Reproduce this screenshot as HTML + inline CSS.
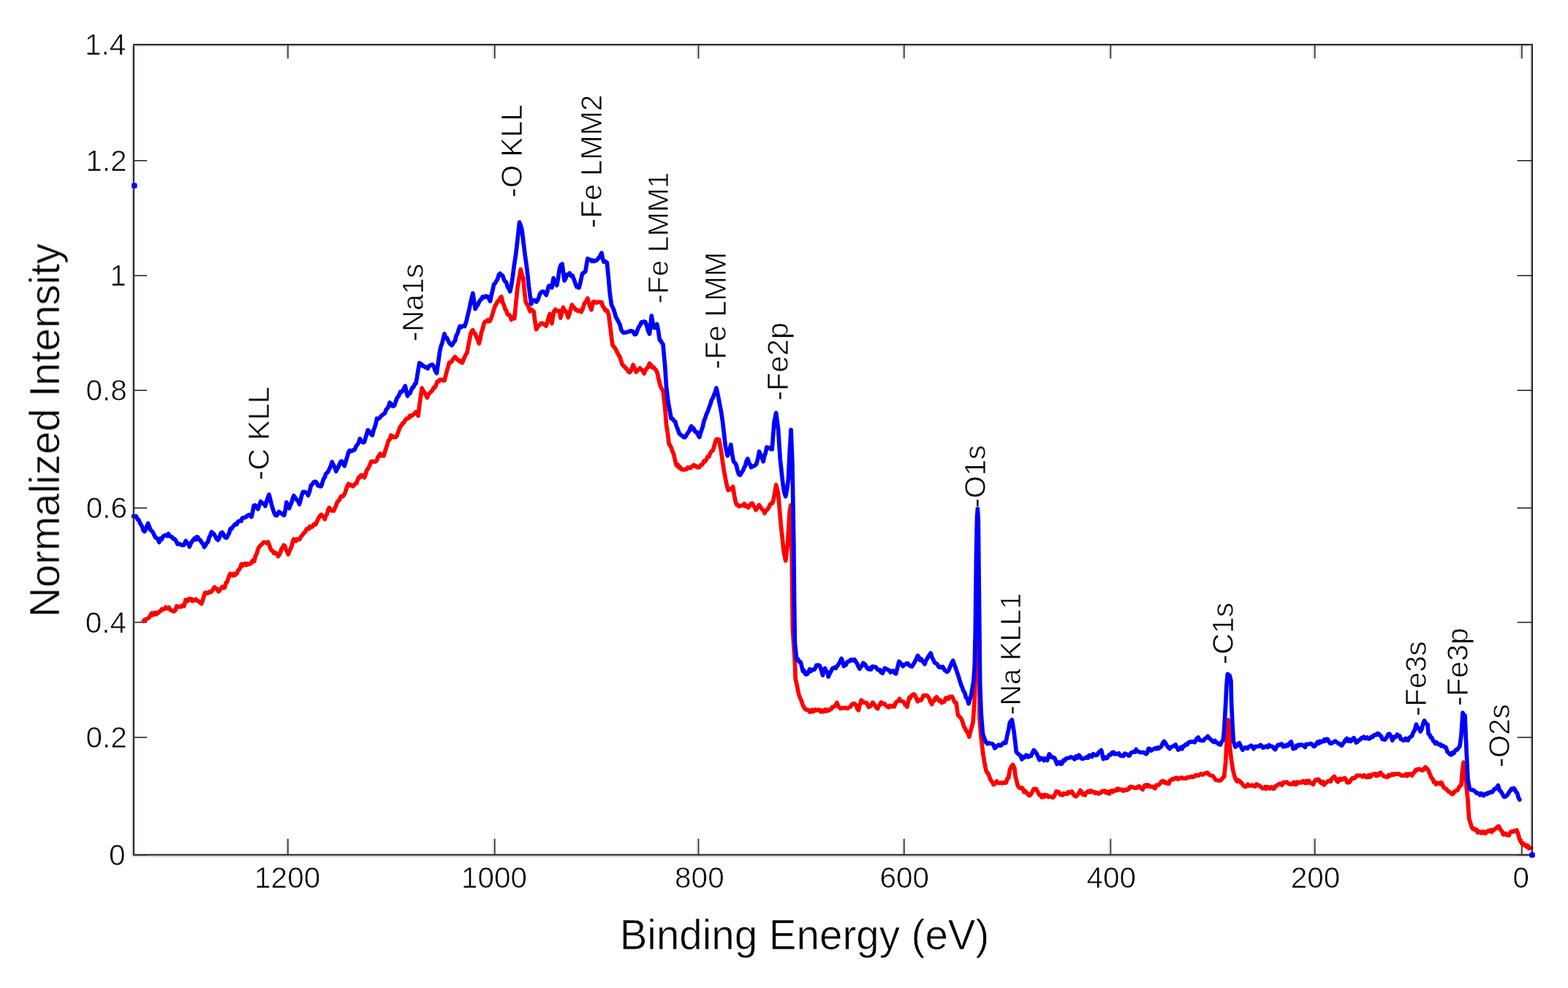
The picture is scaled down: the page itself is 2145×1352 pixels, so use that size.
<!DOCTYPE html>
<html><head><meta charset="utf-8"><title>XPS survey spectrum</title>
<style>html,body{margin:0;padding:0;background:#fff;}body{width:2145px;height:1352px;overflow:hidden;}svg{display:block;position:absolute;left:0;top:0;}text{font-family:"Liberation Sans",Arial,Helvetica,sans-serif;fill:#000000;stroke:#ffffff;stroke-width:0.7px;}</style>
</head><body>
<svg width="2145" height="1352" viewBox="0 0 2145 1352">
<rect x="0" y="0" width="2145" height="1352" fill="#ffffff"/>
<defs><filter id="soft" x="0" y="0" width="100%" height="100%" filterUnits="userSpaceOnUse"><feGaussianBlur stdDeviation="0.45"/></filter></defs>
<g filter="url(#soft)">
<g stroke="#d4d4d4" stroke-width="2" fill="none">
<line x1="181.0" y1="63.0" x2="181.0" y2="1171.7"/>
<line x1="185.0" y1="63.0" x2="2094.0" y2="63.0"/>
<line x1="181.0" y1="1171.7" x2="2096.0" y2="1171.7"/>
<line x1="2094.0" y1="63.0" x2="2094.0" y2="1167.7"/>
</g>
<g stroke="#d6d6d6" stroke-width="1.6" fill="none">
<line x1="391.9" y1="1169.7" x2="391.9" y2="1147.7"/>
<line x1="391.9" y1="63.0" x2="391.9" y2="80.0"/>
<line x1="674.8" y1="1169.7" x2="674.8" y2="1147.7"/>
<line x1="674.8" y1="63.0" x2="674.8" y2="80.0"/>
<line x1="953.6" y1="1169.7" x2="953.6" y2="1147.7"/>
<line x1="953.6" y1="63.0" x2="953.6" y2="80.0"/>
<line x1="1234.8" y1="1169.7" x2="1234.8" y2="1147.7"/>
<line x1="1234.8" y1="63.0" x2="1234.8" y2="80.0"/>
<line x1="1517.4" y1="1169.7" x2="1517.4" y2="1147.7"/>
<line x1="1517.4" y1="63.0" x2="1517.4" y2="80.0"/>
<line x1="1796.7" y1="1169.7" x2="1796.7" y2="1147.7"/>
<line x1="1796.7" y1="63.0" x2="1796.7" y2="80.0"/>
<line x1="2079.9" y1="1169.7" x2="2079.9" y2="1147.7"/>
<line x1="2079.9" y1="63.0" x2="2079.9" y2="80.0"/>
</g>
<g stroke="#262626" stroke-width="1.6" fill="none">
<line x1="393.9" y1="1169.7" x2="393.9" y2="1147.7"/>
<line x1="393.9" y1="61.0" x2="393.9" y2="80.0"/>
<line x1="676.8" y1="1169.7" x2="676.8" y2="1147.7"/>
<line x1="676.8" y1="61.0" x2="676.8" y2="80.0"/>
<line x1="955.6" y1="1169.7" x2="955.6" y2="1147.7"/>
<line x1="955.6" y1="61.0" x2="955.6" y2="80.0"/>
<line x1="1236.8" y1="1169.7" x2="1236.8" y2="1147.7"/>
<line x1="1236.8" y1="61.0" x2="1236.8" y2="80.0"/>
<line x1="1519.4" y1="1169.7" x2="1519.4" y2="1147.7"/>
<line x1="1519.4" y1="61.0" x2="1519.4" y2="80.0"/>
<line x1="1798.7" y1="1169.7" x2="1798.7" y2="1147.7"/>
<line x1="1798.7" y1="61.0" x2="1798.7" y2="80.0"/>
<line x1="2081.9" y1="1169.7" x2="2081.9" y2="1147.7"/>
<line x1="2081.9" y1="61.0" x2="2081.9" y2="80.0"/>
<line x1="183.0" y1="1169.8" x2="201.0" y2="1169.8"/>
<line x1="2096.0" y1="1169.8" x2="2075.5" y2="1169.8"/>
<line x1="183.0" y1="1009.1" x2="201.0" y2="1009.1"/>
<line x1="2096.0" y1="1009.1" x2="2075.5" y2="1009.1"/>
<line x1="183.0" y1="851.6" x2="201.0" y2="851.6"/>
<line x1="2096.0" y1="851.6" x2="2075.5" y2="851.6"/>
<line x1="183.0" y1="695.2" x2="201.0" y2="695.2"/>
<line x1="2096.0" y1="695.2" x2="2075.5" y2="695.2"/>
<line x1="183.0" y1="534.2" x2="201.0" y2="534.2"/>
<line x1="2096.0" y1="534.2" x2="2075.5" y2="534.2"/>
<line x1="183.0" y1="377.2" x2="201.0" y2="377.2"/>
<line x1="2096.0" y1="377.2" x2="2075.5" y2="377.2"/>
<line x1="183.0" y1="219.8" x2="201.0" y2="219.8"/>
<line x1="2096.0" y1="219.8" x2="2075.5" y2="219.8"/>
<line x1="183.0" y1="61.0" x2="201.0" y2="61.0"/>
<line x1="2096.0" y1="61.0" x2="2075.5" y2="61.0"/>
</g>
<polyline fill="none" stroke="#ff0000" stroke-width="5.7" stroke-linejoin="round" stroke-linecap="round" points="196.4,849.7 198.1,847.9 199.7,848.2 201.4,846.7 203.0,846.0 204.6,844.5 206.1,840.9 207.7,839.1 209.2,841.6 210.7,839.0 212.2,838.4 213.7,840.7 215.2,838.3 216.8,838.7 218.3,836.5 219.9,836.1 221.5,833.4 223.2,833.9 224.8,833.5 226.5,831.0 228.1,832.4 229.7,832.8 231.2,831.2 232.8,834.3 234.5,835.4 236.2,836.0 237.9,836.7 239.8,835.3 241.6,829.5 243.3,830.2 245.0,830.6 246.6,829.8 248.3,830.3 250.0,828.2 251.7,829.5 254.2,820.6 255.7,822.4 257.3,822.2 258.8,819.4 260.3,819.5 261.9,819.8 263.4,822.5 264.9,820.6 266.5,821.3 268.0,820.1 269.5,821.8 271.0,822.4 272.6,823.3 274.1,825.1 275.6,826.1 277.3,821.8 278.9,815.6 280.6,811.0 282.2,811.1 283.8,811.9 285.3,811.1 286.9,809.6 288.5,810.2 290.0,808.7 291.6,806.6 293.2,803.4 295.1,805.7 296.9,805.6 298.8,809.6 300.6,807.4 302.3,805.1 304.1,803.0 305.8,804.6 307.6,803.9 309.1,797.4 310.6,796.7 312.1,792.0 313.6,787.8 315.1,785.1 316.6,787.0 318.1,787.6 319.7,784.9 321.2,787.2 322.7,785.4 324.2,784.8 325.7,780.4 327.2,779.4 328.7,776.7 330.2,772.0 331.9,774.0 333.6,771.7 335.2,771.1 336.9,773.2 338.6,771.3 340.3,772.1 341.8,771.6 343.3,771.1 344.8,768.2 346.3,766.5 347.8,768.2 349.5,760.8 351.2,757.7 352.9,752.0 354.4,748.4 355.9,746.9 357.4,745.4 358.9,744.1 360.4,742.1 362.0,742.0 363.5,742.2 365.1,743.4 366.7,741.8 368.4,745.7 370.0,750.9 371.7,753.4 373.3,754.2 374.9,757.3 376.4,756.3 378.0,757.1 380.5,761.3 382.0,759.3 383.5,756.3 385.1,750.8 386.6,749.4 388.1,746.0 389.7,747.1 391.2,752.3 392.8,754.8 394.4,758.7 395.9,753.8 397.4,751.3 398.9,747.6 400.4,741.3 401.9,737.6 403.4,739.6 404.9,740.4 406.5,737.6 408.0,738.1 409.5,738.3 411.2,735.3 412.8,733.3 414.5,731.0 416.1,728.9 417.7,727.4 419.3,724.1 420.9,723.4 422.4,723.9 424.0,720.3 425.5,721.3 427.1,720.9 428.7,718.3 430.2,716.8 431.8,717.7 433.3,714.6 434.9,710.7 436.4,708.0 438.0,705.3 439.6,704.3 441.1,706.3 442.6,707.5 444.2,710.5 445.8,705.6 447.3,703.6 448.8,697.6 450.4,694.7 451.9,697.0 453.5,699.0 455.1,698.6 456.6,699.0 458.2,694.7 459.7,692.3 461.2,687.2 462.8,685.5 464.4,684.1 465.9,680.1 467.5,678.9 469.0,679.3 470.6,677.1 472.2,674.2 473.7,669.1 475.2,664.8 476.8,662.0 478.4,664.5 479.9,663.4 481.4,664.5 483.0,665.5 484.6,663.6 486.1,661.6 487.6,661.5 489.2,656.8 490.8,653.1 492.3,653.4 493.9,650.1 495.4,651.5 497.0,650.5 498.5,653.4 500.1,649.7 501.6,643.5 503.2,641.8 504.7,639.0 506.3,635.3 507.8,631.7 509.4,631.2 510.9,631.8 512.5,631.8 514.0,631.6 515.6,629.9 517.1,625.2 518.7,623.4 520.2,620.7 521.8,623.8 523.4,623.0 524.9,623.8 526.6,618.4 528.3,613.0 529.9,608.2 531.5,602.5 533.2,601.5 534.8,595.7 536.4,596.6 538.0,598.3 539.7,598.2 541.3,598.2 542.9,596.5 544.5,591.7 546.2,587.2 547.8,583.3 549.4,581.9 551.0,578.9 552.6,578.4 554.3,575.2 555.9,573.0 557.5,572.6 559.1,572.3 560.8,568.6 562.4,569.5 564.0,568.6 565.7,566.9 567.3,565.6 568.9,563.7 570.6,567.0 572.2,568.9 573.8,554.0 575.5,542.9 577.1,531.0 578.9,534.7 580.8,537.2 582.6,540.3 584.4,544.2 586.2,539.4 588.0,537.5 589.9,535.8 591.7,533.7 593.3,530.3 595.0,530.3 596.6,526.6 598.2,522.2 599.9,522.0 601.5,519.7 603.1,519.7 604.8,519.9 606.4,520.9 608.0,520.7 609.6,514.2 611.2,507.9 612.9,502.7 614.5,496.2 616.1,496.2 617.7,495.1 619.4,492.3 621.0,489.6 622.6,488.3 624.2,490.1 625.9,492.0 627.5,493.8 629.1,493.4 630.8,496.0 632.4,496.4 634.1,492.1 635.8,488.2 637.4,485.0 639.1,482.1 640.7,473.0 642.2,465.8 643.8,456.9 645.3,453.4 646.8,451.7 648.5,455.7 650.2,456.9 651.9,461.5 653.6,464.9 655.3,470.0 657.0,463.4 658.7,454.5 660.4,449.6 662.1,442.4 663.8,439.9 665.5,439.9 667.2,438.0 668.9,439.8 670.6,438.6 672.3,434.3 674.0,428.9 675.7,423.3 677.4,418.4 679.1,415.8 680.8,412.1 682.6,411.8 684.3,407.7 686.0,406.1 687.7,414.1 689.3,417.1 691.0,422.9 692.7,425.3 694.4,430.5 696.1,430.4 697.8,432.2 699.5,437.5 701.6,434.1 703.8,435.8 705.9,414.0 708.0,393.3 710.1,381.8 712.3,368.6 714.0,376.2 715.7,380.2 717.4,398.2 719.1,412.5 720.6,416.2 722.1,417.0 723.6,422.3 725.1,426.0 726.8,423.4 728.5,424.9 730.2,426.3 731.9,440.0 733.6,450.7 735.3,447.9 737.0,445.6 738.7,444.4 740.4,442.3 742.1,442.3 743.8,443.5 745.5,444.9 747.2,446.0 748.9,440.5 750.6,433.7 752.3,429.5 755.0,442.6 756.5,432.5 758.0,425.6 759.9,423.5 761.7,425.4 763.5,425.6 765.4,425.3 766.8,435.1 768.6,427.5 770.5,420.7 772.2,425.0 773.9,425.6 775.5,428.8 777.2,434.5 778.9,429.7 780.7,422.8 782.4,417.1 784.1,420.6 785.8,421.1 787.5,423.9 789.0,423.9 790.5,425.6 792.0,424.9 793.5,424.9 795.0,426.9 797.2,422.6 799.4,415.1 801.6,412.8 803.8,408.1 805.5,415.1 807.3,419.6 809.0,423.9 811.2,413.3 813.2,412.6 815.1,414.2 817.1,413.9 819.1,413.1 821.0,413.8 823.0,413.7 824.5,419.0 826.0,420.4 828.2,425.0 830.4,424.6 832.7,431.0 834.9,448.2 837.8,471.7 839.3,474.1 840.8,475.6 842.3,477.8 844.5,482.4 846.7,486.6 848.2,488.9 849.7,494.1 851.2,498.9 853.4,500.8 855.6,503.6 857.6,505.1 859.5,508.3 861.5,509.6 863.0,507.7 864.5,504.3 866.0,499.2 868.2,503.9 870.4,509.1 872.1,506.4 873.8,505.7 875.5,503.8 877.4,506.4 879.2,506.6 881.1,511.2 883.0,506.5 884.8,504.1 886.6,502.4 888.5,497.3 890.0,498.6 891.6,502.5 893.1,501.8 894.6,503.2 896.2,505.3 897.7,506.8 899.6,511.8 901.4,520.3 903.3,528.1 905.1,531.9 907.0,534.7 909.8,558.2 911.6,581.7 913.5,593.6 915.3,608.1 916.8,609.6 918.4,613.2 919.9,617.7 921.8,621.9 923.6,630.8 925.5,637.1 927.0,635.4 928.6,639.7 930.1,638.8 931.6,641.5 933.2,642.7 934.7,642.3 936.3,642.9 938.0,642.2 939.6,642.0 941.2,639.4 942.8,640.4 944.5,640.5 946.1,638.7 947.7,637.5 949.2,636.3 950.8,638.0 952.3,637.8 953.8,639.5 955.4,639.6 956.9,639.5 958.5,636.3 960.1,636.1 961.7,634.2 963.2,630.7 964.8,631.4 966.4,628.7 968.0,624.9 969.9,625.1 971.7,619.5 973.5,617.4 975.4,616.1 976.9,610.7 978.5,605.6 980.0,601.0 981.9,601.2 983.7,601.6 985.4,611.2 987.0,620.9 988.7,633.3 990.5,644.5 992.4,654.8 994.2,663.8 996.1,670.8 997.7,669.5 999.4,669.0 1001.0,669.9 1002.6,666.0 1004.5,677.8 1006.3,687.0 1007.8,690.7 1009.4,691.1 1010.9,692.9 1012.8,692.2 1014.6,691.8 1016.4,691.7 1018.3,689.3 1020.1,692.9 1022.0,692.1 1023.8,694.5 1025.7,691.4 1027.5,689.0 1029.4,688.9 1030.9,692.4 1032.5,694.2 1034.0,697.9 1035.5,695.6 1037.1,693.7 1038.6,690.9 1040.4,693.9 1042.3,696.6 1044.2,698.2 1046.0,702.3 1047.8,698.8 1049.7,697.2 1051.6,694.6 1053.4,690.5 1054.9,688.9 1056.5,688.9 1058.0,684.4 1059.8,675.1 1061.7,663.4 1064.5,674.7 1066.3,694.9 1068.2,717.7 1070.1,735.3 1071.9,753.1 1074.7,767.3 1077.5,744.1 1080.2,700.2 1081.8,691.3 1083.2,759.9 1084.3,858.1 1085.8,883.4 1087.4,905.6 1088.2,928.6 1089.8,935.9 1091.3,943.1 1092.9,951.0 1094.7,955.4 1096.4,959.1 1098.2,965.0 1099.9,967.8 1101.4,970.1 1103.0,971.3 1104.5,971.2 1106.1,972.2 1107.6,974.3 1109.1,974.0 1110.7,971.3 1112.2,973.7 1113.8,973.0 1115.4,971.0 1116.9,972.1 1118.5,971.6 1120.0,971.1 1121.6,972.7 1123.1,974.1 1124.7,972.0 1126.2,973.9 1127.8,973.3 1129.3,970.8 1130.9,972.9 1132.4,971.4 1134.0,972.1 1135.5,970.8 1137.1,970.4 1138.7,967.4 1140.2,967.5 1141.8,966.4 1143.3,964.6 1144.9,961.5 1146.5,965.8 1148.0,967.9 1149.6,969.7 1151.1,969.1 1152.7,968.8 1154.2,968.9 1155.8,968.3 1157.3,969.2 1158.9,969.5 1160.5,968.5 1162.0,967.7 1163.5,967.0 1165.1,964.1 1166.7,963.1 1168.2,962.6 1169.8,963.7 1171.3,965.3 1172.9,970.2 1174.4,971.9 1176.3,964.4 1178.3,958.1 1180.0,959.9 1181.7,961.4 1183.4,961.3 1185.1,961.8 1186.8,963.8 1188.4,967.5 1190.0,966.8 1191.9,965.1 1193.8,961.2 1195.5,963.4 1197.2,965.5 1198.9,968.5 1200.6,969.8 1202.2,966.4 1203.8,963.8 1205.4,961.1 1207.1,963.2 1208.8,962.6 1210.6,963.5 1212.3,966.0 1214.0,966.8 1215.5,967.8 1217.1,965.5 1218.6,966.8 1220.2,966.7 1221.7,965.4 1223.4,966.9 1225.2,962.2 1226.9,959.9 1228.7,959.3 1230.4,956.3 1231.9,959.2 1233.4,959.4 1234.9,959.9 1236.5,960.9 1238.0,964.5 1239.5,964.1 1241.0,967.2 1243.8,954.5 1245.3,955.2 1246.9,952.0 1248.4,950.8 1250.0,949.9 1251.5,950.9 1253.5,955.6 1255.4,959.8 1256.9,957.6 1258.5,958.4 1260.0,958.1 1261.6,955.4 1263.1,951.9 1264.7,951.7 1266.3,951.6 1267.9,951.5 1269.6,953.4 1271.2,955.9 1272.9,960.5 1274.6,963.7 1276.3,958.8 1277.9,959.2 1279.6,955.0 1281.3,953.8 1283.0,956.6 1284.7,959.1 1286.4,958.2 1288.1,961.6 1290.0,960.8 1291.9,960.0 1293.8,955.0 1295.5,955.2 1297.3,956.6 1299.0,953.4 1300.8,953.9 1302.5,953.1 1304.4,957.4 1306.2,961.3 1308.1,961.6 1310.4,978.5 1312.6,980.7 1314.8,983.3 1316.8,987.7 1318.7,994.4 1320.7,997.8 1322.4,1001.0 1324.2,1003.3 1325.9,1008.2 1327.6,1001.2 1329.4,994.6 1331.1,988.3 1333.3,954.8 1335.5,880.4 1336.8,780.8 1337.8,759.6 1338.8,800.0 1340.0,982.4 1342.2,1009.5 1345.1,1033.6 1346.9,1044.1 1348.8,1054.0 1350.3,1057.2 1351.8,1058.5 1353.3,1062.5 1355.3,1067.6 1357.2,1069.8 1359.2,1073.7 1361.4,1072.1 1363.6,1069.1 1365.4,1071.5 1367.3,1071.6 1369.2,1071.0 1371.0,1071.8 1372.9,1070.6 1374.8,1071.5 1376.4,1071.0 1378.0,1065.3 1379.6,1064.4 1381.5,1053.2 1383.5,1048.8 1385.4,1046.5 1387.8,1050.8 1389.2,1062.6 1392.1,1074.5 1394.0,1077.6 1396.0,1078.6 1397.9,1077.8 1399.4,1079.9 1400.9,1083.8 1402.4,1082.3 1404.0,1084.8 1405.5,1085.5 1407.0,1088.1 1408.5,1088.7 1410.4,1086.8 1412.3,1083.3 1414.2,1079.5 1415.8,1079.7 1417.4,1079.7 1419.0,1082.7 1421.9,1087.8 1423.4,1087.5 1424.9,1090.9 1426.4,1088.1 1428.0,1090.6 1429.5,1087.7 1431.0,1089.1 1432.5,1088.2 1434.1,1090.6 1435.7,1089.9 1437.3,1090.2 1438.9,1090.8 1440.5,1091.4 1442.1,1089.6 1445.0,1082.9 1446.7,1083.5 1448.3,1083.5 1450.0,1087.3 1451.7,1087.6 1453.3,1088.1 1454.9,1085.6 1456.5,1086.5 1458.1,1085.9 1459.8,1086.5 1461.4,1083.8 1463.0,1084.5 1464.6,1084.7 1466.2,1082.9 1468.1,1086.5 1470.0,1089.1 1471.9,1089.9 1473.8,1088.2 1475.8,1085.4 1477.7,1081.5 1479.4,1083.4 1481.1,1087.2 1482.7,1086.3 1484.4,1088.1 1485.0,1085.3 1486.8,1084.4 1488.7,1082.7 1490.5,1084.1 1492.3,1081.9 1493.8,1083.1 1495.3,1084.2 1496.8,1083.6 1498.3,1085.4 1499.8,1084.6 1501.3,1084.9 1502.9,1086.2 1504.5,1085.3 1506.2,1084.8 1507.8,1082.5 1509.4,1082.9 1511.0,1082.1 1512.6,1084.7 1514.3,1084.9 1515.9,1083.2 1517.5,1086.0 1519.0,1082.8 1520.6,1081.9 1522.1,1083.7 1523.7,1081.6 1525.2,1081.9 1526.7,1081.8 1528.3,1079.2 1529.8,1081.2 1531.3,1079.7 1532.8,1080.5 1534.4,1080.3 1535.9,1082.0 1537.4,1082.2 1539.0,1080.7 1540.5,1080.3 1542.0,1081.2 1543.6,1080.2 1545.2,1077.5 1546.9,1076.4 1548.5,1077.1 1550.1,1077.1 1551.7,1078.2 1553.3,1078.4 1555.0,1078.2 1556.6,1076.5 1558.2,1075.9 1559.8,1077.5 1561.5,1079.1 1563.1,1080.4 1565.6,1074.8 1567.2,1074.2 1568.8,1076.1 1570.4,1074.2 1572.1,1075.0 1573.7,1076.7 1575.3,1076.5 1576.9,1076.3 1578.6,1077.8 1580.1,1078.7 1581.6,1074.7 1583.2,1074.0 1584.7,1074.3 1586.2,1073.2 1587.8,1070.7 1589.3,1069.2 1590.8,1068.6 1592.4,1070.9 1594.0,1069.9 1595.7,1072.0 1597.3,1071.4 1598.9,1072.3 1600.6,1067.9 1602.3,1067.5 1604.0,1065.8 1605.7,1066.4 1607.4,1065.0 1609.4,1064.3 1611.3,1066.3 1613.3,1064.9 1615.0,1065.0 1616.8,1064.0 1618.5,1065.2 1620.3,1065.0 1622.2,1065.5 1624.0,1063.6 1625.9,1063.9 1627.8,1063.5 1629.6,1062.5 1631.4,1063.4 1633.3,1063.0 1635.2,1061.0 1637.0,1060.6 1639.2,1061.4 1641.4,1060.0 1643.1,1059.0 1644.9,1060.2 1646.6,1059.2 1648.3,1058.2 1650.1,1057.8 1651.8,1057.3 1653.5,1059.7 1655.3,1060.9 1657.0,1061.2 1659.0,1061.5 1660.9,1064.2 1662.9,1067.1 1664.9,1067.7 1666.8,1068.0 1668.8,1068.3 1670.7,1067.1 1672.7,1064.3 1674.6,1062.9 1676.6,1043.7 1678.0,1018.2 1680.0,985.2 1682.0,1016.1 1683.9,1035.9 1686.6,1053.5 1688.6,1061.4 1690.6,1066.8 1692.4,1069.5 1694.1,1067.5 1695.9,1068.9 1697.6,1071.0 1699.2,1072.0 1700.9,1074.9 1702.6,1076.2 1704.1,1076.6 1705.6,1075.4 1707.1,1073.3 1708.7,1075.3 1710.2,1075.2 1711.7,1075.0 1713.2,1074.2 1715.0,1075.6 1716.9,1076.2 1718.8,1073.1 1720.6,1075.0 1722.3,1074.6 1724.0,1075.9 1725.7,1077.9 1727.4,1078.9 1729.1,1078.4 1730.7,1076.8 1732.2,1079.4 1733.8,1076.8 1735.4,1077.5 1737.0,1079.1 1738.5,1077.2 1740.1,1077.1 1741.7,1079.5 1743.5,1078.6 1745.2,1075.5 1747.0,1074.9 1748.7,1073.6 1750.4,1072.5 1752.1,1072.4 1753.8,1074.4 1755.5,1070.6 1757.2,1070.6 1758.8,1070.6 1760.3,1070.2 1761.9,1071.9 1763.4,1072.8 1765.0,1073.2 1766.5,1072.5 1768.1,1073.3 1769.6,1070.4 1771.2,1071.5 1772.8,1073.7 1774.4,1070.2 1776.0,1070.7 1777.6,1071.2 1779.1,1070.2 1780.7,1070.9 1782.3,1068.8 1783.9,1069.2 1785.6,1071.7 1787.3,1068.6 1788.9,1071.2 1790.6,1068.5 1792.3,1071.3 1794.4,1071.9 1796.5,1073.5 1798.1,1069.6 1799.8,1067.2 1801.4,1067.6 1803.1,1066.5 1804.7,1067.4 1806.3,1070.7 1808.0,1071.8 1809.7,1069.7 1811.3,1074.0 1813.2,1071.7 1815.0,1070.5 1816.9,1068.8 1818.6,1068.5 1820.3,1069.4 1821.9,1065.6 1823.6,1063.8 1825.3,1062.6 1827.0,1065.4 1828.8,1069.0 1830.3,1070.0 1831.9,1066.0 1833.4,1065.5 1835.0,1067.2 1836.5,1066.5 1838.1,1065.4 1839.7,1064.6 1841.3,1066.8 1843.0,1070.8 1844.6,1070.9 1846.2,1070.3 1847.9,1067.5 1849.5,1065.1 1851.1,1064.8 1852.7,1064.9 1854.4,1063.6 1856.0,1061.4 1857.6,1061.2 1859.3,1061.5 1860.9,1061.3 1862.5,1061.7 1864.2,1062.9 1865.8,1060.7 1867.4,1062.2 1869.1,1063.6 1870.7,1063.4 1872.2,1060.7 1873.7,1063.3 1875.2,1062.6 1876.7,1059.9 1878.2,1060.0 1879.7,1059.5 1881.2,1058.7 1882.7,1061.8 1884.2,1059.5 1885.7,1060.9 1887.2,1057.9 1888.7,1057.3 1890.2,1060.1 1891.8,1060.9 1893.5,1062.6 1895.1,1062.5 1896.7,1063.0 1898.2,1063.4 1899.7,1060.5 1901.2,1061.6 1902.8,1060.8 1904.3,1059.3 1905.8,1060.4 1907.3,1059.0 1908.9,1059.6 1910.5,1059.1 1912.2,1058.9 1913.8,1059.1 1915.4,1060.0 1917.0,1061.4 1918.7,1061.3 1920.3,1061.1 1921.9,1061.1 1923.6,1059.2 1925.2,1061.8 1926.8,1059.3 1928.4,1058.9 1930.1,1060.3 1931.7,1061.2 1933.3,1057.8 1935.0,1056.9 1936.6,1053.5 1938.2,1054.0 1940.0,1052.3 1941.8,1052.6 1943.7,1053.0 1945.5,1054.4 1947.0,1053.8 1948.5,1051.1 1950.0,1049.7 1951.5,1052.3 1953.0,1052.3 1954.5,1055.6 1956.0,1059.2 1958.0,1063.9 1960.0,1066.3 1961.5,1070.4 1963.0,1070.0 1964.5,1073.4 1966.0,1072.4 1967.5,1071.4 1969.0,1072.1 1970.5,1072.8 1972.0,1070.7 1974.0,1075.7 1976.0,1078.7 1977.5,1078.9 1979.0,1080.2 1980.5,1082.4 1982.0,1083.5 1983.5,1083.9 1985.0,1085.4 1986.5,1086.8 1988.0,1086.2 1989.5,1083.4 1991.0,1082.4 1992.5,1081.7 1994.0,1081.3 1995.7,1077.6 1997.3,1075.4 1999.0,1074.3 2000.5,1054.1 2002.0,1043.2 2004.0,1050.0 2006.0,1076.4 2008.0,1095.0 2009.6,1119.8 2011.6,1126.4 2013.6,1132.8 2015.2,1134.4 2016.8,1133.9 2018.4,1136.1 2020.0,1135.4 2021.6,1139.4 2023.2,1137.8 2024.8,1138.4 2026.4,1140.1 2027.9,1138.1 2029.5,1138.0 2031.1,1140.5 2032.7,1140.0 2034.3,1137.6 2035.9,1137.0 2037.5,1137.7 2039.0,1136.0 2040.6,1138.5 2042.2,1135.7 2043.8,1135.6 2045.4,1134.4 2047.0,1133.3 2048.6,1131.4 2050.2,1130.6 2051.8,1133.8 2053.3,1136.2 2054.9,1138.1 2056.5,1142.1 2058.1,1141.9 2059.7,1140.5 2061.3,1142.6 2062.9,1142.9 2064.4,1143.0 2066.0,1138.8 2067.6,1137.8 2069.4,1138.3 2071.2,1136.9 2073.0,1137.4 2074.8,1136.0 2076.8,1141.3 2078.8,1148.8 2080.4,1151.4 2081.9,1154.5 2083.5,1154.0 2085.1,1156.7 2086.7,1156.2 2088.3,1158.7 2089.9,1157.0 2091.5,1160.8 2093.1,1159.9 2094.7,1160.3"/>
<polyline fill="none" stroke="#0000ff" stroke-width="5.7" stroke-linejoin="round" stroke-linecap="round" points="182.5,706.4 184.4,706.4 186.3,706.3 188.0,710.7 189.6,711.1 191.3,715.3 192.9,718.2 194.4,720.5 196.0,725.6 197.6,727.3 199.3,725.0 200.9,719.9 202.6,716.2 204.3,720.8 206.0,725.5 207.7,726.3 209.4,728.8 211.0,732.4 212.7,735.6 214.4,736.4 216.0,737.8 217.7,742.0 219.4,737.0 221.1,738.3 222.8,734.5 224.3,733.3 225.8,732.4 227.3,732.3 228.8,733.4 230.3,730.4 232.0,733.1 233.6,734.5 235.3,734.8 236.8,737.2 238.3,737.2 239.9,739.0 241.4,741.3 242.9,744.7 244.7,744.3 246.4,744.4 248.2,745.9 249.9,745.9 251.7,745.9 254.2,740.1 255.9,742.7 257.5,744.0 259.2,748.2 261.1,743.5 263.0,740.4 264.5,739.1 266.0,736.8 267.6,738.5 269.1,734.7 270.6,735.0 272.4,738.7 274.1,739.1 275.9,742.8 277.6,743.7 279.4,748.5 281.1,746.3 282.7,743.1 284.4,741.7 286.1,735.4 287.7,732.6 289.4,728.0 291.1,729.7 292.8,730.9 294.5,734.0 296.4,737.5 298.2,738.9 300.1,735.9 301.9,730.0 303.8,728.6 305.4,730.6 307.0,734.1 308.5,735.7 310.1,735.9 311.8,732.5 313.4,729.8 315.1,723.7 316.9,723.5 318.6,720.7 320.4,718.7 322.1,716.8 323.9,717.6 325.4,714.0 326.9,713.2 328.5,712.4 330.0,712.9 331.5,708.8 333.0,708.9 334.5,708.0 336.0,707.9 337.5,706.4 339.0,705.3 340.7,704.5 342.4,706.2 344.1,707.3 345.6,700.4 347.2,691.8 349.1,691.4 351.0,694.0 352.9,696.7 354.8,691.1 356.6,686.3 358.2,688.3 359.8,688.7 361.3,689.3 362.9,692.4 364.6,686.4 366.3,681.2 368.0,676.7 369.9,683.9 371.7,691.5 373.4,696.9 375.1,702.1 376.8,704.9 378.5,705.4 380.1,702.5 381.8,700.3 383.5,701.9 385.2,702.4 387.0,704.3 388.7,705.1 390.3,698.2 391.9,687.3 393.8,691.1 395.6,695.5 397.2,691.2 398.8,687.7 400.3,682.6 401.9,678.3 403.4,680.6 404.9,682.2 406.5,684.9 408.0,685.4 409.5,690.2 411.2,684.3 412.8,677.7 414.5,673.1 416.2,673.0 418.0,674.0 419.8,674.2 421.6,677.9 423.6,672.2 425.5,664.1 427.1,663.0 428.6,660.4 430.1,659.3 431.7,659.0 433.3,660.7 434.9,664.6 436.4,664.2 438.0,665.6 439.5,665.3 441.1,660.2 442.6,655.2 444.2,653.5 445.7,648.5 447.2,647.2 448.8,645.7 450.6,641.7 452.5,637.5 454.3,632.3 456.1,636.3 457.9,639.2 459.7,645.0 461.3,641.3 462.8,639.4 464.4,635.0 465.9,631.9 467.5,631.2 469.4,634.9 471.3,637.6 473.1,631.2 475.0,625.0 476.8,618.5 478.3,616.6 479.9,617.7 481.4,617.1 483.0,615.9 484.5,615.9 486.1,613.4 487.6,609.9 489.2,608.1 490.7,605.6 492.3,600.4 493.9,603.3 495.4,604.7 496.9,605.7 498.5,604.7 500.1,599.0 501.6,593.9 503.2,588.6 504.8,589.8 506.3,592.4 507.8,594.6 509.4,595.5 510.9,589.2 512.5,584.8 514.0,580.3 515.6,572.7 517.1,573.2 518.7,572.6 520.2,570.6 521.8,568.9 523.4,567.7 525.0,566.4 526.6,565.4 528.2,560.5 529.9,558.9 531.5,556.3 533.1,550.9 534.7,552.2 536.4,555.4 538.0,555.8 539.6,555.0 541.2,550.0 542.9,545.2 544.5,543.1 546.1,540.5 547.8,536.0 549.4,536.3 551.0,534.7 552.7,531.3 554.3,528.1 555.9,536.1 557.5,541.9 559.1,538.2 560.8,538.4 562.5,534.0 564.1,530.3 565.7,529.6 567.3,525.6 568.9,525.0 570.5,516.2 572.2,505.3 573.8,496.7 575.4,497.9 577.1,498.8 578.7,501.2 580.3,501.1 582.0,502.7 583.6,502.8 585.2,504.3 586.8,501.0 588.5,500.0 590.1,499.2 591.7,499.1 593.6,501.7 595.5,507.8 597.4,510.7 599.5,496.2 601.5,481.5 603.1,474.0 604.8,469.8 606.4,463.2 608.0,456.8 609.6,462.1 611.3,462.3 612.9,465.8 614.5,469.1 616.2,471.0 617.8,472.6 619.4,470.6 621.0,468.0 622.6,466.1 624.2,459.2 625.9,456.4 627.5,450.8 629.1,446.4 630.8,447.8 632.4,446.4 634.1,446.2 635.7,446.5 637.9,439.9 640.0,431.0 641.7,424.0 643.4,415.9 645.1,408.3 646.8,401.3 648.5,411.5 650.2,422.8 651.9,419.2 653.6,417.5 655.3,413.2 657.0,410.5 658.5,409.7 660.1,406.2 661.6,406.3 663.2,406.6 664.7,405.2 666.7,405.5 668.6,408.3 670.6,412.3 672.3,403.6 674.0,396.8 675.7,388.9 677.4,387.6 679.1,384.6 680.8,381.6 682.5,375.6 684.2,374.2 685.9,376.5 687.6,377.2 689.3,382.4 691.0,385.3 692.7,386.4 694.4,392.9 696.1,394.7 697.8,398.9 699.5,390.5 701.2,379.7 703.4,362.8 705.5,349.3 707.2,334.8 708.9,319.5 710.6,304.2 712.3,308.9 714.0,314.6 716.6,335.9 718.3,349.7 720.0,361.3 721.7,375.1 723.4,391.5 725.1,404.4 726.8,415.9 728.5,410.9 730.2,410.8 731.9,411.3 733.6,413.1 735.3,411.1 737.0,407.1 738.7,401.8 740.4,399.9 742.1,398.9 743.8,399.3 745.5,401.2 747.2,403.8 748.9,398.3 750.6,391.2 752.8,390.8 755.0,393.6 757.2,380.6 758.7,385.0 760.2,386.7 761.7,390.5 763.5,381.0 765.4,368.2 767.2,362.5 769.1,361.2 772.0,383.8 773.7,381.4 775.5,375.9 777.2,375.7 779.2,373.8 781.1,377.6 783.1,377.1 785.3,382.7 787.5,389.4 789.0,392.7 790.5,392.3 792.0,393.8 794.2,385.6 796.4,375.0 797.9,373.5 799.4,372.7 800.9,371.3 803.8,354.0 805.8,354.9 807.7,355.4 809.7,357.5 811.2,356.3 812.7,357.6 814.2,356.9 816.4,356.0 818.6,353.4 820.8,350.6 823.0,346.1 824.5,353.8 826.0,358.3 828.2,357.7 830.4,359.5 832.7,383.4 834.1,399.6 836.4,416.9 839.3,423.0 840.8,427.6 842.3,433.3 843.8,436.1 846.0,440.2 848.2,444.6 849.7,450.8 851.2,453.7 853.1,455.5 854.9,455.0 856.8,454.8 858.6,454.0 860.6,453.8 862.5,452.7 864.5,453.0 866.3,454.0 868.2,457.7 870.0,457.2 871.9,452.3 873.7,447.4 875.5,445.5 877.4,440.9 879.2,440.8 881.1,440.0 882.9,440.5 884.8,446.2 886.6,452.4 888.5,456.9 891.3,432.0 894.0,447.9 895.6,448.6 897.1,446.8 898.7,443.5 900.5,452.5 902.4,465.3 903.9,466.0 905.5,469.3 907.0,471.1 909.8,502.1 911.6,530.1 914.4,552.4 916.2,561.5 918.1,572.7 919.9,572.8 921.8,575.6 923.6,576.8 925.5,583.5 927.3,587.7 929.2,593.2 931.1,595.1 932.9,595.8 934.8,598.0 936.6,598.7 938.1,597.0 939.7,594.2 941.2,592.0 942.7,590.1 944.3,585.9 945.8,583.2 947.4,587.4 949.0,586.3 950.6,590.2 952.1,591.7 953.7,591.4 955.3,596.1 956.9,598.2 958.5,592.3 960.0,587.8 961.5,583.1 963.1,575.8 964.7,572.2 966.2,567.2 968.1,563.3 969.9,558.1 971.8,553.1 973.6,547.1 975.2,544.5 976.8,540.1 978.4,536.4 980.0,531.0 981.5,537.7 983.1,545.5 984.6,553.7 986.7,564.2 988.7,578.2 990.5,593.9 992.4,610.8 995.2,623.7 996.7,619.6 998.3,614.6 999.8,608.5 1001.6,621.5 1003.5,631.5 1005.4,633.4 1007.2,636.3 1009.0,644.2 1010.9,649.4 1012.7,650.0 1014.6,646.4 1016.4,643.9 1018.0,639.9 1019.6,637.0 1021.3,630.5 1022.9,627.8 1024.4,632.9 1026.0,635.5 1027.5,639.5 1029.3,638.4 1031.2,637.8 1033.1,636.7 1034.9,634.7 1036.8,627.4 1038.6,618.0 1040.5,621.9 1042.3,626.0 1044.2,631.5 1045.7,624.4 1047.3,619.8 1048.8,612.2 1050.7,612.4 1052.5,613.2 1054.3,614.6 1056.2,614.7 1059.0,577.6 1061.7,565.1 1064.5,586.3 1067.3,628.7 1069.2,646.2 1071.0,662.5 1072.8,673.6 1074.7,679.4 1076.6,669.3 1078.4,656.2 1080.2,619.6 1082.1,588.0 1083.9,633.7 1084.9,689.6 1085.8,743.2 1086.6,825.8 1087.4,880.0 1089.8,902.8 1091.6,902.2 1093.4,905.6 1095.2,906.1 1096.8,912.1 1098.3,918.3 1099.9,917.4 1101.4,922.0 1103.0,922.9 1104.5,922.2 1106.1,919.5 1107.6,915.7 1109.1,918.5 1110.7,917.4 1112.2,916.1 1113.8,916.4 1115.3,914.3 1116.9,910.3 1118.5,910.3 1120.0,910.2 1121.6,911.4 1123.5,916.8 1125.5,924.1 1127.0,916.5 1128.6,914.5 1130.1,918.5 1131.7,919.5 1133.2,926.0 1135.2,921.4 1137.1,918.1 1138.7,914.9 1140.2,914.2 1141.8,913.2 1143.4,914.4 1144.9,911.9 1146.5,910.0 1148.0,907.6 1149.6,904.5 1151.1,901.1 1152.7,905.2 1154.2,911.7 1155.8,908.6 1157.3,909.7 1158.9,906.1 1160.4,905.0 1162.1,904.9 1163.8,902.8 1165.6,902.6 1167.3,903.8 1169.0,902.6 1170.8,905.4 1172.5,907.9 1174.2,912.0 1176.0,915.2 1177.5,912.2 1179.1,911.3 1180.7,907.3 1182.2,908.2 1183.8,909.5 1185.3,913.0 1186.9,914.9 1188.4,915.9 1190.0,914.0 1191.6,916.0 1193.2,912.1 1194.8,912.2 1196.5,912.5 1198.2,913.0 1199.8,915.3 1201.5,916.9 1203.4,916.6 1205.4,920.2 1207.3,921.2 1210.2,914.4 1211.8,915.1 1213.4,915.6 1215.0,916.9 1216.7,917.3 1218.3,920.0 1220.0,918.8 1221.7,918.0 1223.7,921.0 1225.6,921.8 1227.8,913.1 1229.9,905.2 1231.7,907.3 1233.4,908.9 1235.2,911.7 1236.9,909.6 1238.6,909.0 1240.2,907.8 1241.9,907.8 1243.8,910.5 1245.8,911.6 1247.7,912.0 1249.2,909.3 1250.8,907.0 1252.3,903.8 1253.9,900.9 1255.4,897.2 1257.0,899.4 1258.6,903.4 1260.2,901.8 1261.8,904.6 1263.4,906.5 1265.0,908.8 1266.6,903.8 1268.3,901.3 1269.9,898.5 1271.6,896.3 1273.2,893.8 1275.0,899.5 1276.8,903.0 1278.6,906.9 1280.4,907.7 1281.9,908.5 1283.5,911.7 1285.0,913.2 1286.6,912.4 1288.1,913.6 1289.6,912.5 1291.2,914.8 1292.7,917.7 1294.3,918.3 1295.8,919.4 1297.9,917.0 1300.0,911.6 1301.8,907.4 1303.7,903.9 1305.4,909.1 1307.2,913.7 1308.9,918.6 1311.1,925.2 1313.3,932.3 1314.8,937.2 1316.3,940.5 1317.8,945.3 1319.6,947.5 1321.4,954.3 1323.3,956.4 1325.1,962.9 1326.9,956.7 1328.8,950.3 1330.3,940.8 1331.8,932.4 1333.3,910.1 1334.3,860.7 1335.5,758.6 1336.5,708.5 1337.4,696.1 1338.3,712.3 1339.2,799.6 1340.7,938.2 1342.2,976.6 1344.4,1003.9 1346.6,1010.2 1348.8,1016.0 1350.8,1017.8 1352.7,1016.6 1354.7,1017.5 1356.2,1017.5 1357.7,1018.1 1359.2,1019.6 1360.7,1023.7 1362.5,1022.4 1364.3,1020.6 1366.2,1019.2 1368.0,1020.5 1369.6,1020.1 1371.1,1018.1 1372.7,1016.4 1374.2,1016.9 1375.8,1016.7 1377.7,1007.0 1379.6,999.1 1381.5,988.6 1384.4,985.1 1386.8,999.5 1388.8,1015.1 1390.2,1028.8 1392.1,1031.0 1394.0,1032.5 1396.0,1033.8 1397.9,1039.0 1399.8,1035.7 1401.8,1036.5 1403.7,1033.4 1405.3,1033.7 1406.9,1036.0 1408.5,1034.7 1410.4,1034.5 1412.3,1030.3 1414.2,1026.6 1416.2,1028.6 1418.1,1031.2 1420.0,1035.5 1421.9,1039.9 1423.4,1037.2 1425.0,1038.3 1426.5,1037.8 1428.1,1040.7 1429.6,1037.9 1432.5,1040.5 1435.4,1031.9 1436.9,1033.7 1438.5,1036.1 1440.0,1036.6 1441.6,1036.6 1443.1,1038.1 1446.0,1045.6 1447.7,1043.4 1449.3,1042.9 1451.0,1045.6 1452.7,1044.9 1454.6,1040.4 1456.6,1040.8 1458.5,1037.9 1460.1,1037.7 1461.8,1037.4 1463.4,1036.7 1465.1,1035.9 1466.7,1036.8 1468.4,1036.9 1470.0,1038.9 1471.9,1035.0 1473.9,1037.0 1475.8,1033.3 1477.3,1034.8 1478.9,1037.5 1480.4,1038.4 1482.0,1038.0 1483.5,1037.6 1485.0,1037.1 1486.6,1035.9 1488.3,1037.1 1489.9,1033.7 1491.7,1033.9 1493.6,1035.4 1495.4,1031.8 1497.2,1032.8 1499.1,1033.7 1501.0,1033.0 1502.9,1029.8 1504.8,1028.2 1506.6,1026.6 1509.4,1038.7 1511.0,1035.9 1512.7,1037.3 1514.3,1037.4 1515.9,1035.0 1517.8,1032.6 1519.7,1032.9 1521.6,1029.5 1523.5,1029.3 1525.4,1032.0 1527.3,1031.6 1528.9,1031.7 1530.5,1030.8 1532.2,1033.7 1533.8,1034.4 1535.4,1033.6 1537.0,1034.6 1538.7,1031.1 1540.3,1031.7 1541.9,1032.5 1543.6,1034.1 1545.2,1033.9 1546.7,1030.9 1548.2,1029.5 1549.7,1029.2 1551.2,1028.5 1552.7,1029.1 1554.2,1025.5 1555.8,1028.2 1557.4,1028.5 1559.1,1029.3 1560.7,1029.6 1562.3,1029.5 1564.2,1029.5 1566.1,1030.6 1568.0,1031.8 1569.6,1030.1 1571.2,1024.3 1573.0,1024.9 1574.9,1027.1 1576.8,1025.5 1578.6,1025.0 1580.2,1023.9 1581.8,1024.8 1583.5,1023.0 1585.1,1024.4 1586.7,1023.1 1588.6,1021.6 1590.5,1017.1 1592.4,1014.5 1594.0,1016.2 1595.7,1019.3 1597.3,1021.7 1600.0,1024.7 1601.8,1022.5 1603.7,1021.7 1605.9,1020.6 1608.1,1018.9 1609.9,1022.5 1611.8,1026.1 1613.5,1025.0 1615.3,1022.6 1617.0,1024.7 1618.7,1021.3 1620.5,1020.7 1622.2,1018.5 1624.2,1018.9 1626.1,1016.0 1628.1,1015.2 1630.3,1015.2 1632.5,1014.9 1634.2,1015.8 1635.8,1013.0 1637.5,1010.4 1639.2,1009.0 1640.9,1012.9 1642.7,1012.9 1644.4,1013.6 1646.4,1013.5 1648.3,1010.7 1650.3,1009.7 1652.3,1007.5 1654.2,1009.8 1656.2,1012.0 1658.2,1013.6 1660.1,1015.3 1662.1,1013.6 1663.8,1016.0 1665.6,1016.7 1667.3,1018.4 1669.2,1019.1 1671.0,1015.6 1673.3,1012.6 1674.6,998.6 1676.6,964.5 1678.0,936.4 1679.3,922.4 1682.0,924.3 1683.9,931.6 1684.6,961.8 1685.9,990.1 1687.3,1014.2 1689.9,1022.1 1691.7,1020.9 1693.5,1018.3 1695.3,1016.7 1696.8,1019.6 1698.4,1023.4 1699.9,1026.2 1701.6,1024.1 1703.2,1022.9 1704.9,1023.6 1706.6,1024.3 1708.2,1021.7 1709.9,1021.4 1711.5,1020.2 1713.2,1021.5 1715.0,1024.7 1716.5,1022.1 1718.1,1021.4 1719.6,1021.6 1721.2,1021.3 1722.7,1020.8 1724.3,1019.5 1725.9,1020.5 1727.5,1023.1 1729.1,1022.8 1730.8,1021.6 1732.6,1021.0 1734.3,1022.6 1736.1,1019.6 1737.8,1021.2 1739.5,1021.2 1741.1,1022.1 1742.8,1024.4 1744.5,1025.6 1746.4,1021.7 1748.2,1019.4 1750.1,1019.7 1751.9,1018.4 1753.7,1018.2 1755.4,1021.9 1757.2,1020.7 1758.7,1021.5 1760.2,1019.3 1761.8,1020.3 1763.3,1018.1 1764.8,1016.3 1766.3,1015.1 1769.1,1024.7 1770.6,1024.0 1772.2,1024.0 1773.7,1020.1 1775.3,1021.0 1776.8,1019.1 1778.5,1019.9 1780.2,1018.9 1781.9,1019.7 1783.6,1020.8 1785.3,1022.5 1786.9,1018.4 1788.4,1018.5 1790.0,1018.4 1791.6,1017.8 1793.7,1017.5 1795.8,1019.7 1797.5,1021.5 1799.1,1020.6 1800.8,1017.8 1802.4,1015.2 1804.0,1017.3 1805.7,1014.3 1807.2,1015.8 1808.7,1014.3 1810.2,1014.7 1811.7,1011.9 1813.2,1013.7 1814.7,1011.3 1816.2,1011.6 1818.1,1015.2 1819.9,1017.3 1821.8,1017.1 1823.4,1015.8 1825.1,1015.0 1826.7,1014.1 1828.5,1015.7 1830.2,1016.8 1832.0,1017.5 1833.8,1019.4 1835.5,1020.2 1837.3,1017.2 1838.9,1015.5 1840.6,1012.5 1842.4,1010.6 1844.2,1014.1 1846.1,1012.1 1847.9,1014.5 1850.0,1011.8 1852.0,1009.7 1853.6,1012.2 1855.2,1016.2 1857.0,1015.2 1858.8,1013.0 1860.7,1012.2 1862.5,1009.8 1864.0,1009.8 1865.6,1008.3 1867.1,1010.4 1868.7,1010.0 1870.2,1009.0 1871.7,1010.9 1873.3,1011.0 1874.8,1009.8 1876.4,1008.0 1878.0,1008.3 1879.6,1006.1 1881.3,1005.4 1882.9,1005.7 1884.5,1003.6 1886.1,1004.1 1887.8,1006.6 1889.4,1007.1 1891.0,1011.5 1892.7,1011.7 1894.3,1012.3 1895.9,1010.6 1897.6,1007.9 1899.2,1004.5 1900.8,1004.3 1902.8,1007.5 1904.9,1013.2 1906.5,1008.5 1908.2,1009.2 1909.8,1007.9 1911.4,1005.1 1913.0,1007.3 1914.7,1006.8 1916.3,1011.5 1917.9,1011.6 1919.5,1013.2 1921.1,1013.1 1922.8,1010.4 1924.4,1012.6 1926.0,1013.2 1927.6,1010.0 1929.5,1008.4 1931.4,1007.1 1933.3,1002.3 1935.3,999.2 1937.4,991.3 1939.3,996.2 1941.2,996.8 1943.1,1001.0 1944.9,997.8 1946.7,990.6 1948.5,986.1 1950.0,989.0 1951.5,990.3 1953.0,991.3 1954.0,1003.9 1955.7,1005.1 1957.3,1009.2 1959.0,1009.6 1960.5,1013.9 1962.0,1014.8 1963.6,1017.6 1965.2,1015.8 1966.8,1017.9 1968.4,1018.9 1970.0,1018.5 1971.5,1020.8 1973.0,1020.2 1974.5,1020.8 1976.0,1022.4 1978.0,1022.6 1980.0,1028.8 1982.0,1030.5 1984.0,1032.6 1985.5,1032.8 1987.0,1029.7 1988.5,1031.0 1990.0,1028.3 1991.8,1026.0 1993.5,1026.0 1995.2,1023.3 1997.0,1020.8 1999.0,1005.9 2001.0,975.4 2002.5,979.7 2004.0,979.1 2006.0,1025.5 2008.0,1066.7 2010.4,1079.5 2012.0,1081.0 2013.6,1080.9 2015.2,1081.0 2016.8,1082.3 2018.4,1083.3 2020.0,1085.5 2021.6,1085.3 2023.2,1086.1 2024.7,1088.0 2026.3,1085.8 2027.9,1086.7 2029.5,1088.7 2031.1,1087.0 2032.7,1086.1 2034.3,1086.6 2035.8,1084.9 2037.4,1085.1 2039.0,1083.8 2040.6,1084.3 2042.4,1082.7 2044.1,1079.7 2045.9,1079.6 2047.6,1077.5 2049.4,1074.7 2051.4,1081.6 2053.3,1083.1 2055.3,1086.7 2057.3,1090.4 2059.2,1090.3 2061.0,1089.0 2062.9,1086.6 2064.5,1083.8 2066.1,1081.9 2067.6,1079.5 2069.2,1080.4 2070.8,1078.6 2072.4,1080.3 2074.0,1083.7 2075.6,1085.4 2077.2,1091.5 2078.8,1094.3"/>
<rect x="183.0" y="61.0" width="1913.0" height="1108.7" fill="none" stroke="#262626" stroke-width="2"/>
<rect x="180" y="250.2" width="7.6" height="7.6" rx="2.5" fill="#0000ff"/>
<rect x="2092.2" y="1166.2" width="7.6" height="7.6" rx="2.5" fill="#0000ff"/>
<text x="348.1" y="1214.9" font-size="40.5">1200</text>
<text x="630.9" y="1214.9" font-size="40.5">1000</text>
<text x="923.1" y="1214.9" font-size="40.5">800</text>
<text x="1203.5" y="1214.9" font-size="40.5">600</text>
<text x="1486.5" y="1214.9" font-size="40.5">400</text>
<text x="1765.7" y="1214.9" font-size="40.5">200</text>
<text x="2069.4" y="1214.9" font-size="40.5">0</text>
<text x="149.1" y="1183.7" font-size="40.5">0</text>
<text x="117.6" y="1023.0" font-size="40.5">0.2</text>
<text x="116.8" y="865.5" font-size="40.5">0.4</text>
<text x="117.7" y="709.1" font-size="40.5">0.6</text>
<text x="117.4" y="548.1" font-size="40.5">0.8</text>
<text x="150.2" y="391.1" font-size="40.5">1</text>
<text x="117.3" y="233.7" font-size="40.5">1.2</text>
<text x="115.9" y="74.9" font-size="40.5">1.4</text>
<text x="847.7" y="1299.2" font-size="56.5">Binding Energy (eV)</text>
<text transform="translate(81.0 844.7) rotate(-90)" font-size="56.5">Normalized Intensity</text>
<text transform="translate(367.9 657.3) rotate(-90)" font-size="41.1">-C KLL</text>
<text transform="translate(578.7 467.1) rotate(-90)" font-size="39.9">-Na1s</text>
<text transform="translate(713.8 270.5) rotate(-90)" font-size="40.2">-O KLL</text>
<text transform="translate(822.9 312.2) rotate(-90)" font-size="40.1">-Fe LMM2</text>
<text transform="translate(913.5 415.4) rotate(-90)" font-size="39.5">-Fe LMM1</text>
<text transform="translate(992.9 505.5) rotate(-90)" font-size="40.2">-Fe LMM</text>
<text transform="translate(1078.0 548.6) rotate(-90)" font-size="41.1">-Fe2p</text>
<text transform="translate(1347.9 695.3) rotate(-90)" font-size="39.8">-O1s</text>
<text transform="translate(1396.2 978.6) rotate(-90)" font-size="39.5">-Na KLL1</text>
<text transform="translate(1686.8 908.9) rotate(-90)" font-size="39.9">-C1s</text>
<text transform="translate(1950.7 980.3) rotate(-90)" font-size="40.3">-Fe3s</text>
<text transform="translate(2008.4 966.6) rotate(-90)" font-size="41.2">-Fe3p</text>
<text transform="translate(2065.4 1050.3) rotate(-90)" font-size="40.1">-O2s</text>
</g>
</svg></body></html>
